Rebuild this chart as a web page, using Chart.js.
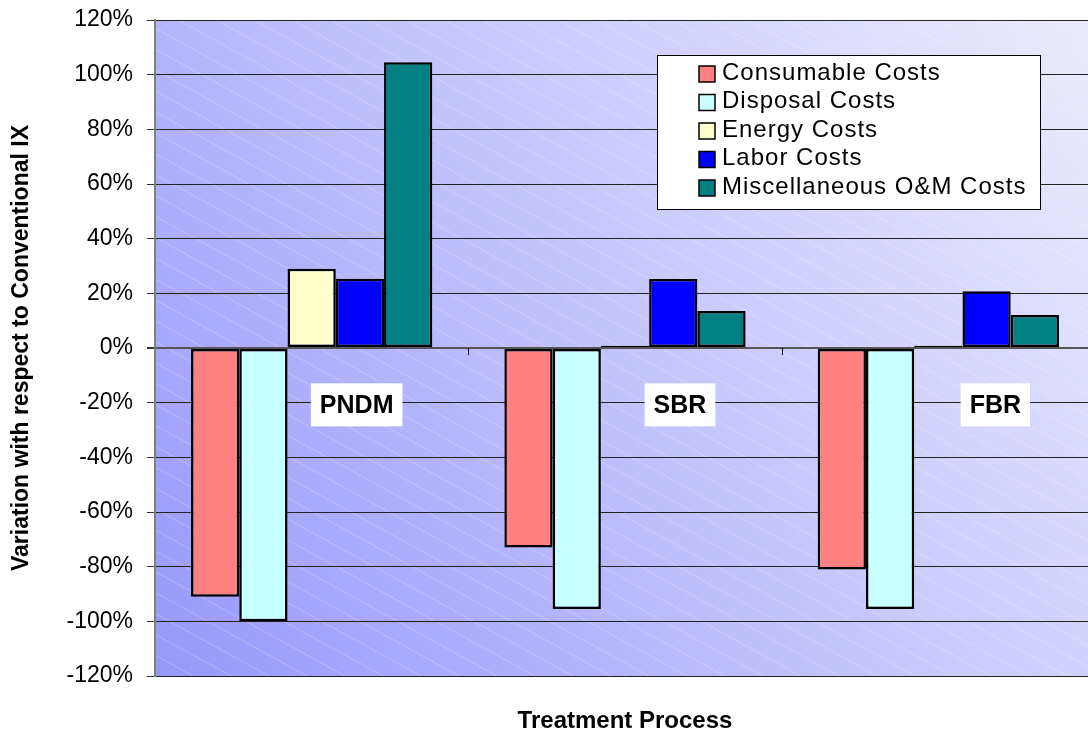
<!DOCTYPE html>
<html>
<head>
<meta charset="utf-8">
<script src="https://cdn.jsdelivr.net/npm/chart.js@4.4.0/dist/chart.umd.min.js"></script>
<style>
  html, body { margin: 0; padding: 0; background: #fff; overflow: hidden; }
  #wrap { width: 1096px; height: 736px; }
</style>
</head>
<body>
<div id="wrap"><canvas id="costChart"></canvas></div>
<script>
const categories = ['PNDM', 'SBR', 'FBR'];
const consumableCosts = [-91, -73, -81];
const disposalCosts = [-100, -95.5, -95.5];
const energyCosts = [29, 0.8, 0.8];
const laborCosts = [25.3, 25.2, 20.8];
const miscCosts = [104.5, 13.5, 12.1];
const yMin = -120, yMax = 120, yStep = 20;

// plot background: diagonal gradient + faint white stripes
const plotBackground = {
  id: 'plotBackground',
  beforeDraw(chart) {
    const { ctx, chartArea: a } = chart;
    ctx.save();
    const g = ctx.createLinearGradient(a.left, a.bottom, a.right, a.top);
    g.addColorStop(0, '#9898fc');
    g.addColorStop(0.5, '#c4c4fd');
    g.addColorStop(1, '#ececfe');
    ctx.fillStyle = g;
    ctx.fillRect(a.left, a.top, a.right - a.left, a.bottom - a.top);
    ctx.beginPath();
    ctx.rect(a.left, a.top, a.right - a.left, a.bottom - a.top);
    ctx.clip();
    ctx.strokeStyle = 'rgba(255,255,255,0.25)';
    ctx.lineWidth = 1;
    const h = a.bottom - a.top;
    const dx = h / 0.55;
    for (let k = -dx; k < a.right - a.left; k += 38) {
      ctx.beginPath();
      ctx.moveTo(a.left + k, a.top);
      ctx.lineTo(a.left + k + dx, a.bottom);
      ctx.stroke();
    }
    ctx.restore();
  }
};

// category ticks on the zero line and the boxed category names
const categoryMarks = {
  id: 'categoryMarks',
  afterDatasetsDraw(chart) {
    const { ctx } = chart;
    const x = chart.scales.x, y = chart.scales.y;
    const y0 = y.getPixelForValue(0);
    ctx.save();
    ctx.strokeStyle = '#000';
    ctx.lineWidth = 1;
    for (let i = 0; i < categories.length - 1; i++) {
      const xm = (x.getPixelForValue(i) + x.getPixelForValue(i + 1)) / 2;
      ctx.beginPath();
      ctx.moveTo(Math.round(xm) + 0.5, y0);
      ctx.lineTo(Math.round(xm) + 0.5, y0 + 7);
      ctx.stroke();
    }
    const offsets = [45, 55, 57];
    ctx.font = 'bold 25px "Liberation Sans", Arial, sans-serif';
    ctx.textAlign = 'center';
    ctx.textBaseline = 'middle';
    const cy = y.getPixelForValue(-20.8);
    categories.forEach((c, i) => {
      const cx = x.getPixelForValue(i) + offsets[i];
      const w = ctx.measureText(c).width + 18;
      ctx.fillStyle = '#fff';
      ctx.fillRect(cx - w / 2, cy - 21.5, w, 43);
      ctx.fillStyle = '#000';
      ctx.fillText(c, cx, cy + 1);
    });
    ctx.restore();
  }
};

// boxed legend inside the plot
const boxLegend = {
  id: 'boxLegend',
  afterDraw(chart) {
    const { ctx } = chart;
    ctx.save();
    ctx.fillStyle = '#fff';
    ctx.fillRect(657, 55, 384, 155);
    ctx.strokeStyle = '#000';
    ctx.lineWidth = 1;
    ctx.strokeRect(657.5, 55.5, 383, 154);
    ctx.font = '24px "Liberation Sans", Arial, sans-serif';
    ctx.letterSpacing = '1px';
    ctx.textBaseline = 'middle';
    ctx.textAlign = 'left';
    chart.data.datasets.forEach((ds, i) => {
      const cy = 73 + i * 28.5;
      ctx.fillStyle = ds.backgroundColor;
      ctx.fillRect(699, cy - 7, 16, 16);
      ctx.strokeStyle = '#000';
      ctx.lineWidth = 1.5;
      ctx.strokeRect(699, cy - 7, 16, 16);
      ctx.fillStyle = '#000';
      ctx.fillText(ds.label, 722, cy);
    });
    ctx.restore();
  }
};

const series = [
  { label: 'Consumable Costs', data: consumableCosts, color: '#ff8080' },
  { label: 'Disposal Costs', data: disposalCosts, color: '#c8ffff' },
  { label: 'Energy Costs', data: energyCosts, color: '#ffffcc' },
  { label: 'Labor Costs', data: laborCosts, color: '#0000ff' },
  { label: 'Miscellaneous O&M Costs', data: miscCosts, color: '#008080' }
];

new Chart(document.getElementById('costChart'), {
  type: 'bar',
  data: {
    labels: categories,
    datasets: series.map(s => ({
      label: s.label,
      data: s.data,
      backgroundColor: s.color,
      borderColor: '#000',
      borderWidth: 2.5,
      borderSkipped: false,
      categoryPercentage: 0.77,
      barPercentage: 1
    }))
  },
  options: {
    responsive: true,
    maintainAspectRatio: false,
    animation: false,
    layout: { padding: { top: 20, right: 1, left: 0, bottom: 0 } },
    plugins: {
      legend: { display: false },
      tooltip: { enabled: false }
    },
    scales: {
      x: {
        position: 'bottom',
        ticks: { display: false },
        grid: { display: false },
        border: { display: false },
        title: {
          display: true,
          text: 'Treatment Process',
          color: '#000',
          font: { family: '"Liberation Sans", Arial, sans-serif', size: 24, weight: 'bold' },
          padding: { top: 0, bottom: 0 }
        },
        afterFit(scale) { scale.height = 60; }
      },
      y: {
        min: yMin,
        max: yMax,
        ticks: {
          stepSize: yStep,
          padding: 14,
          color: '#000',
          font: { family: '"Liberation Sans", Arial, sans-serif', size: 23 },
          callback: v => v + '%'
        },
        grid: {
          color: ctx => ctx.tick && ctx.tick.value === 0 ? '#555' : '#222',
          lineWidth: ctx => ctx.tick && ctx.tick.value === 0 ? 2 : 1,
          tickLength: 8,
          tickColor: '#333'
        },
        border: { display: true, color: '#808080', width: 2 },
        title: {
          display: true,
          text: 'Variation with respect to Conventional IX',
          color: '#000',
          font: { family: '"Liberation Sans", Arial, sans-serif', size: 23, weight: 'bold' },
          padding: { top: 8, bottom: 0 }
        },
        afterFit(scale) {
          scale.width = 155;
          scale.paddingTop = 0;
          scale.paddingBottom = 0;
        }
      }
    }
  },
  plugins: [plotBackground, categoryMarks, boxLegend]
});
</script>
</body>
</html>
